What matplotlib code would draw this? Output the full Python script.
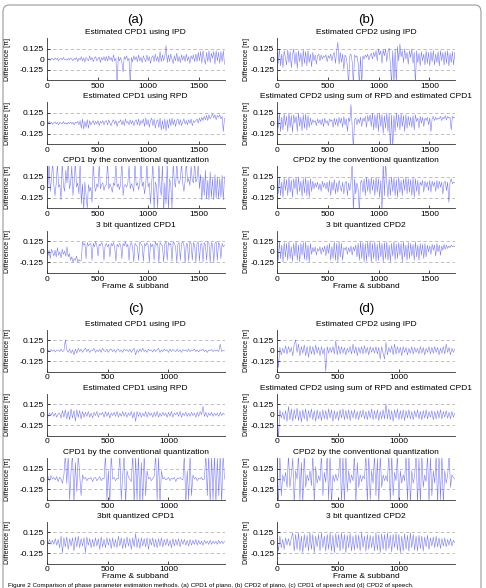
import numpy as np
import matplotlib
matplotlib.use("Agg")
import matplotlib.pyplot as plt
from matplotlib.patches import FancyBboxPatch

plt.rcParams['font.family'] = ['Liberation Sans', 'DejaVu Sans']

# ---------------- data (difference in units of pi) ----------------
frames_ab = 1750
frames_cd = 1460

a1 = [0.01,-0.01,0.005,-0.015,0.01,0.0,-0.01,0.015,-0.005,0.01,-0.02,0.005,0.01,-0.01,0.02,-0.005,0.0,-0.015,0.01,-0.01,0.015,0.0,-0.02,0.01,-0.005,
      0.02,-0.03,0.01,-0.01,0.03,-0.02,0.015,-0.035,0.02,0.0,-0.02,0.04,-0.01,0.02,-0.03,0.01,0.03,-0.02,0.0,0.025,-0.04,0.02,-0.01,0.03,-0.02,
      0.03,-0.02,0.04,-0.01,0.02,-0.03,0.05,-0.02,0.01,-0.3,0.03,-0.02,0.02,-0.04,-0.15,0.03,0.0,0.04,-0.02,0.01,-0.3,0.02,-0.03,0.04,-0.01,
      0.03,-0.03,0.05,-0.02,0.02,-0.04,0.04,0.0,-0.03,0.05,-0.02,0.03,-0.05,0.02,0.04,-0.03,0.06,-0.02,0.03,-0.04,0.09,-0.03,0.05,-0.02,0.04,
      0.16,-0.04,0.05,-0.03,0.06,0.0,-0.05,0.04,-0.02,0.07,-0.03,0.03,-0.04,0.05,-0.01,0.04,-0.03,0.06,-0.02,0.03,-0.05,0.04,0.0,0.05,-0.03,
      0.06,-0.03,0.08,-0.02,0.09,-0.05,0.1,0.0,-0.06,0.08,-0.03,0.1,-0.04,0.07,0.01,0.09,-0.06,0.1,-0.02,0.08,-0.05,0.09,-0.03,0.1,-0.06]
a2 = [0.01,-0.01,0.02,-0.005,0.01,-0.015,0.005,0.015,-0.01,0.01,-0.02,0.01,0.0,-0.01,0.02,-0.01,0.005,-0.015,0.01,-0.005,0.015,-0.01,0.01,-0.02,0.01,
      0.0,0.02,-0.02,0.03,-0.06,0.05,-0.07,0.02,-0.05,0.04,-0.06,0.03,-0.02,0.01,0.03,-0.02,0.02,-0.01,0.03,-0.03,0.02,0.0,0.03,-0.02,0.02,
      0.03,-0.02,0.04,0.0,-0.03,0.02,0.04,-0.01,0.03,-0.04,0.02,0.01,0.04,-0.02,0.03,-0.03,0.05,0.0,0.02,-0.02,0.04,-0.01,0.03,-0.03,0.02,
      0.04,-0.02,0.05,-0.03,0.03,0.0,0.05,-0.04,0.06,-0.02,0.04,-0.05,0.03,0.06,-0.03,0.05,-0.06,0.02,0.04,-0.05,0.06,-0.08,0.03,-0.07,0.05,
      -0.09,0.04,-0.06,0.05,-0.03,0.06,-0.02,0.04,-0.04,0.03,0.05,-0.02,0.04,-0.03,0.02,0.05,-0.01,0.03,-0.02,0.04,0.0,0.05,-0.03,0.03,0.01,
      0.03,0.05,0.0,0.06,0.02,0.07,0.03,0.08,0.04,0.09,0.03,0.1,0.05,0.08,0.11,0.06,0.1,0.04,0.09,0.07,0.1,0.05,0.08,-0.1,0.06]
a3 = [0.25,0.0,0.3,-0.05,0.1,0.3,0.02,-0.1,0.05,0.28,0.0,0.03,-0.15,0.3,0.02,-0.05,0.2,0.05,0.3,-0.02,0.04,0.25,-0.1,0.06,0.3,
      0.0,0.05,-0.08,0.3,-0.2,0.04,-0.28,0.06,-0.1,-0.25,0.03,-0.05,0.0,-0.18,0.3,0.02,-0.05,0.04,0.0,0.28,-0.02,0.03,0.05,-0.04,0.02,
      0.03,0.3,-0.02,0.04,0.0,-0.06,0.05,0.02,0.28,0.0,0.04,-0.03,0.05,0.3,-0.1,0.02,0.03,0.0,0.05,0.25,-0.02,0.04,0.01,-0.05,0.3,
      0.02,0.05,-0.03,0.04,0.3,0.01,0.06,-0.08,0.03,0.28,0.0,0.05,-0.2,0.04,0.3,-0.28,0.06,0.02,-0.25,0.3,0.0,-0.1,0.28,-0.3,0.05,
      -0.2,0.3,-0.28,0.1,0.02,-0.25,0.3,0.05,0.0,0.3,0.08,0.04,0.1,0.28,0.05,-0.05,0.08,0.3,0.06,0.1,0.02,0.25,0.08,0.05,0.3,
      0.06,0.1,0.28,-0.02,0.15,-0.15,0.12,-0.1,0.2,-0.14,0.08,-0.15,0.18,-0.12,0.1,-0.15,0.15,-0.13,0.12,-0.14,0.1,-0.12,0.14,-0.15,0.12]
a4 = [0.1,-0.05,0.02,-0.08,0.03,0.0,-0.05,0.02,-0.06,0.05,-0.04,0.0,-0.07,0.03,-0.03,0.01,-0.05,0.06,-0.06,-0.02,-0.1,-0.06,-0.12,-0.08,-0.1,
      -0.05,-0.12,-0.09,-0.11,-0.1,0.12,0.08,0.1,-0.08,0.11,0.07,0.09,0.1,-0.1,0.1,0.06,0.12,0.08,-0.05,0.09,0.07,0.11,0.08,-0.1,0.08,
      0.1,0.06,0.09,-0.06,0.1,0.07,0.11,0.05,-0.11,0.09,0.06,0.1,0.08,-0.08,0.1,0.07,0.12,0.06,0.09,-0.1,0.09,0.11,0.05,-0.12,0.1,
      0.08,0.06,-0.1,0.12,0.09,0.07,-0.11,0.1,0.07,0.11,0.08,-0.12,0.1,0.06,0.09,-0.1,0.12,0.08,0.1,-0.13,0.11,0.09,0.07,-0.12,0.1,
      0.12,-0.1,0.11,0.08,0.1,-0.11,0.12,0.1,0.06,-0.12,0.09,0.11,-0.1,0.1,0.12,0.08,-0.13,0.1,0.09,-0.11,0.12,0.1,-0.1,0.11,0.08,
      -0.12,0.1,0.12,-0.11,0.09,0.1,-0.12,0.11,0.08,-0.1,0.12,0.1,-0.13,0.11,0.09,-0.12,0.1,0.12,-0.1,0.11,0.09,-0.08,0.1,0.06,0.08]

b1 = [0.08,-0.05,0.12,-0.08,0.06,-0.1,0.1,0.02,-0.07,0.11,-0.04,0.09,-0.1,0.05,0.12,-0.06,0.08,-0.11,0.1,-0.03,0.07,-0.09,0.11,-0.05,0.09,
      -0.08,0.1,-0.04,0.06,-0.09,0.08,-0.02,0.05,-0.06,0.04,0.06,-0.02,0.05,0.0,0.04,0.02,0.05,-0.03,0.04,0.01,0.06,-0.02,0.05,0.08,-0.05,
      0.1,0.2,-0.06,0.08,-0.04,0.06,-0.12,0.05,0.02,-0.08,-0.3,0.04,0.06,-0.03,-0.3,0.05,0.02,0.04,-0.05,-0.3,0.03,-0.3,0.04,0.0,0.05,
      0.02,0.06,-0.01,0.04,0.07,0.0,0.08,0.03,0.1,-0.02,0.12,0.05,0.1,-0.05,0.11,0.04,0.12,-0.03,0.09,0.13,-0.06,-0.3,0.1,-0.3,0.12,
      -0.3,0.15,-0.02,0.18,0.03,0.1,-0.04,0.12,0.0,0.08,-0.06,0.1,0.02,0.12,-0.05,0.08,-0.3,0.1,-0.04,0.07,-0.08,0.09,-0.02,0.06,-0.07,
      0.1,-0.05,0.08,-0.08,0.09,-0.03,0.1,-0.07,0.06,-0.04,0.09,-0.08,0.1,-0.02,0.08,-0.07,0.09,-0.05,0.1,-0.08,0.07,-0.04,0.09,-0.07,0.08]
b2 = [0.1,-0.06,0.12,-0.1,0.07,-0.08,0.11,-0.03,0.08,-0.1,0.12,-0.05,0.09,-0.11,0.1,0.0,0.08,-0.1,0.12,-0.04,0.07,-0.09,0.1,-0.06,0.11,
      -0.08,0.09,-0.05,0.06,-0.02,0.04,0.01,0.03,-0.03,0.05,0.0,0.04,-0.02,0.05,-0.04,0.06,0.0,0.03,-0.03,0.05,0.02,0.04,-0.05,0.06,-0.02,
      0.05,-0.04,0.07,0.0,0.06,-0.05,0.08,-0.02,0.05,-0.1,0.06,0.02,0.22,-0.05,-0.3,0.04,0.06,-0.02,0.05,0.0,0.07,-0.04,0.06,0.02,0.08,
      -0.05,0.09,0.02,0.1,-0.04,0.12,-0.08,0.1,-0.06,0.11,-0.1,0.12,-0.04,0.1,-0.12,0.09,-0.06,0.12,-0.1,0.11,-0.3,0.1,-0.3,0.09,-0.1,
      0.12,-0.05,0.1,-0.08,0.11,-0.04,0.09,-0.1,0.1,-0.06,0.08,-0.03,0.07,-0.05,0.09,-0.08,0.1,0.02,0.06,-0.06,0.08,0.0,0.07,-0.04,0.06,
      0.03,0.07,-0.02,0.06,-0.1,0.05,0.08,0.03,0.07,0.04,0.06,0.05,0.08,0.03,0.07,0.05,0.09,0.04,0.08,0.06,0.07,-0.08,0.08,0.06,0.07]
b3 = [0.1,-0.08,0.12,-0.1,0.06,-0.12,0.11,-0.04,0.09,-0.1,0.12,-0.06,0.08,-0.12,0.1,-0.02,0.11,-0.09,0.12,-0.05,0.07,-0.11,0.1,-0.07,0.12,
      -0.1,0.08,-0.12,0.1,-0.05,0.07,-0.02,0.05,0.0,0.06,-0.03,0.04,-0.05,0.07,0.0,0.05,-0.02,0.06,-0.06,0.08,-0.1,0.06,-0.04,0.09,-0.08,
      0.05,-0.06,0.08,0.0,-0.05,0.06,-0.08,0.04,0.07,-0.1,0.05,-0.04,0.06,0.3,-0.3,0.1,-0.08,0.05,-0.02,-0.3,0.06,0.08,-0.06,0.1,-0.1,
      0.12,-0.05,0.1,-0.08,0.11,-0.04,0.09,-0.1,0.12,-0.06,0.1,-0.12,0.08,-0.3,0.3,-0.1,0.3,0.05,-0.12,0.1,-0.1,0.12,-0.05,0.11,-0.1,
      0.09,-0.12,0.12,-0.06,0.08,-0.1,0.1,-0.04,0.12,-0.08,0.1,-0.06,0.09,-0.1,0.11,-0.12,0.1,-0.05,0.08,-0.1,0.06,0.02,0.08,-0.06,0.07,
      0.0,0.06,-0.04,0.08,-0.06,0.07,0.01,0.06,-0.05,0.08,-0.02,0.07,0.0,0.06,-0.08,0.05,0.07,-0.04,0.06,-0.18,0.05,0.1,0.04,0.06,0.05]
b4 = [0.1,-0.1,0.12,-0.08,0.08,-0.12,0.11,-0.06,0.1,-0.1,0.12,-0.08,0.06,-0.11,0.1,-0.05,0.12,-0.1,0.08,-0.12,0.1,-0.04,0.11,-0.09,0.12,
      -0.1,0.08,-0.12,0.1,-0.03,0.05,0.0,0.06,-0.04,0.04,0.01,0.06,-0.03,0.05,0.0,0.07,-0.05,0.08,-0.02,0.1,-0.1,0.06,-0.08,0.12,-0.1,
      0.1,-0.12,0.12,-0.06,0.1,-0.1,0.05,0.02,0.06,-0.03,0.05,0.0,0.07,-0.04,0.06,0.01,0.08,-0.06,0.1,-0.1,0.12,-0.08,0.11,-0.12,0.1,
      -0.11,0.12,-0.06,0.13,-0.12,0.1,-0.08,0.12,-0.11,0.09,-0.1,0.12,-0.06,0.1,-0.12,0.11,-0.08,0.12,-0.1,0.08,-0.12,0.1,-0.05,0.12,-0.1,
      0.09,-0.08,0.11,-0.04,0.1,-0.12,0.12,-0.06,0.08,-0.1,0.11,-0.08,0.1,-0.05,0.09,-0.1,0.12,-0.06,0.08,-0.1,0.1,-0.04,0.09,-0.08,0.1,
      -0.06,0.08,0.0,0.07,-0.03,0.09,0.02,0.08,-0.05,0.1,0.0,0.08,-0.04,0.07,0.02,0.09,0.03,0.08,0.04,0.07,0.05,0.08,0.06,0.07,0.06]

c1 = [0.0,0.01,-0.01,0.015,-0.005,0.01,-0.015,0.005,0.01,-0.01,0.02,-0.01,0.0,0.13,0.01,-0.02,0.02,-0.03,0.01,-0.05,0.02,-0.03,0.03,-0.01,0.02,
      -0.02,0.01,0.03,-0.01,0.02,-0.02,0.01,0.0,0.03,-0.02,0.01,-0.01,0.02,-0.02,0.03,0.0,-0.01,0.02,-0.02,0.01,0.02,-0.01,0.015,-0.02,0.01,
      0.02,-0.01,0.01,-0.02,0.02,0.0,0.015,-0.01,0.02,-0.02,0.01,0.03,-0.05,0.01,-0.02,0.02,-0.01,0.03,-0.01,0.01,-0.02,0.02,0.0,0.01,-0.015,
      0.02,-0.01,0.01,0.03,-0.02,0.01,-0.01,0.02,0.0,0.01,-0.02,0.02,-0.01,0.015,0.0,-0.01,0.02,-0.01,0.01,-0.02,0.015,0.0,0.01,-0.01,0.02,
      -0.01,0.01,0.0,0.02,-0.01,0.01,-0.015,0.01,0.0,0.02,-0.01,0.01,-0.02,0.01,0.0,0.015,-0.01,0.01,-0.005,0.01,-0.01,0.08,-0.01,0.005,0.0]
c2 = [0.01,-0.02,0.02,-0.01,0.03,-0.02,0.02,-0.03,0.01,0.02,-0.04,0.05,-0.03,0.06,-0.05,0.04,-0.06,0.07,-0.04,0.05,-0.08,0.06,-0.03,0.05,-0.05,
      0.04,-0.03,0.03,-0.02,0.04,-0.03,0.02,-0.04,0.03,-0.01,0.04,-0.03,0.02,0.0,0.03,-0.03,0.04,-0.02,0.03,-0.04,0.02,-0.01,0.03,-0.02,0.04,
      -0.03,0.02,-0.02,0.04,-0.02,0.03,-0.03,0.02,-0.01,0.04,-0.04,0.03,-0.08,0.04,-0.02,0.03,-0.03,0.02,-0.02,0.04,-0.03,0.03,-0.01,0.02,-0.03,
      0.03,-0.02,0.04,-0.03,0.02,-0.02,0.03,-0.01,0.02,-0.03,0.03,-0.02,0.04,-0.03,0.02,0.0,0.03,-0.02,0.04,-0.03,0.02,-0.01,0.03,-0.02,0.02,
      -0.02,0.03,-0.01,0.02,-0.03,0.03,-0.02,0.04,0.0,0.1,-0.02,0.03,-0.03,0.02,-0.01,0.03,-0.02,0.02,-0.01,0.02,-0.02,0.03,-0.01,0.02,0.0]
c3 = [0.0,0.03,-0.02,0.04,0.0,0.02,-0.01,0.03,-0.03,0.02,0.0,-0.05,0.05,0.3,-0.05,0.28,-0.25,0.1,0.3,-0.3,0.2,-0.15,0.3,0.05,-0.2,
      0.05,0.0,0.02,-0.02,0.01,0.0,0.02,-0.03,0.01,0.02,-0.02,0.0,0.03,-0.02,0.01,0.0,0.3,-0.25,0.1,-0.3,0.3,0.0,0.02,-0.02,0.01,
      0.0,0.3,-0.25,0.05,0.3,-0.3,0.1,0.02,0.0,-0.03,0.3,-0.3,0.28,-0.25,0.3,-0.3,0.2,-0.28,0.3,-0.2,0.1,0.0,0.02,-0.02,0.01,
      0.03,0.3,-0.25,0.28,-0.3,0.1,0.0,0.02,-0.01,0.0,0.02,-0.02,0.01,0.0,0.02,-0.03,0.01,0.0,0.02,0.0,-0.01,0.3,-0.3,0.1,-0.25,
      0.3,-0.2,0.05,0.0,0.02,-0.02,0.01,0.0,0.02,-0.01,0.0,0.3,-0.2,0.3,-0.3,0.28,-0.25,0.3,-0.3,0.25,-0.2,0.3,-0.3,0.3,0.0]
c4 = [0.02,-0.01,0.04,-0.02,0.03,-0.02,0.05,-0.03,0.04,-0.06,0.08,-0.12,0.06,-0.05,0.07,-0.08,0.05,-0.04,0.06,-0.1,0.07,-0.05,0.08,-0.06,0.05,
      -0.04,0.06,-0.12,0.07,-0.03,0.05,-0.06,0.04,-0.05,0.06,-0.04,0.05,-0.08,0.07,-0.05,0.04,-0.06,0.06,-0.03,0.05,-0.07,0.06,-0.05,0.04,-0.06,
      0.08,-0.04,0.06,-0.07,0.05,-0.06,0.07,-0.04,0.05,-0.08,0.06,-0.05,0.11,-0.06,0.05,-0.07,0.06,-0.04,0.05,-0.05,0.06,-0.08,0.05,-0.03,0.06,
      -0.05,0.04,-0.06,0.05,-0.04,0.06,-0.05,0.04,-0.03,0.05,-0.04,0.03,-0.06,0.05,-0.04,0.04,-0.03,0.05,-0.05,0.04,-0.02,0.04,-0.03,0.03,-0.04,
      0.04,-0.03,0.03,-0.02,0.04,-0.03,0.03,-0.02,0.02,-0.03,0.03,-0.01,0.02,-0.02,0.03,-0.02,0.02,-0.01,0.02,-0.02,0.03,-0.01,0.02,-0.01,0.02]

d1 = [0.03,-0.2,0.04,-0.05,0.03,-0.03,0.06,-0.04,0.05,-0.02,0.04,-0.06,0.08,0.13,-0.02,0.08,-0.06,0.05,-0.03,0.07,-0.06,0.05,-0.08,0.06,-0.04,
      0.05,-0.05,0.07,-0.03,0.04,-0.06,0.05,-0.04,0.03,-0.25,0.05,-0.03,0.04,-0.02,0.05,-0.04,0.12,-0.05,0.06,-0.04,0.05,-0.03,0.04,-0.05,0.03,
      -0.02,0.05,-0.04,0.08,-0.03,0.05,-0.06,0.04,-0.03,0.05,-0.04,0.06,-0.03,0.04,-0.05,0.05,-0.02,0.04,-0.03,0.05,-0.04,0.04,-0.1,0.05,-0.03,
      -0.1,0.1,-0.05,0.04,-0.02,0.06,-0.05,0.08,-0.04,0.05,-0.03,0.04,-0.06,0.05,-0.02,0.04,-0.05,0.03,-0.03,0.05,-0.04,0.04,-0.02,0.03,-0.04,
      0.05,-0.03,0.04,-0.05,0.03,-0.02,0.05,-0.04,0.04,-0.03,0.05,-0.02,0.04,-0.05,0.03,-0.03,0.05,-0.04,0.08,-0.02,0.04,-0.05,0.03,-0.02,0.02]
d2 = [0.05,-0.3,0.06,-0.04,0.03,-0.06,0.05,-0.08,0.1,-0.06,0.07,-0.08,0.06,-0.05,0.08,-0.07,0.05,-0.09,0.06,-0.05,0.07,-0.08,0.05,-0.04,0.07,
      -0.06,0.05,-0.08,0.06,-0.05,0.04,-0.07,0.06,-0.05,0.05,-0.06,0.07,-0.04,0.06,-0.08,0.05,-0.05,0.04,-0.07,0.06,-0.04,0.07,-0.06,0.05,-0.05,
      0.06,-0.07,0.05,-0.04,0.06,-0.05,0.04,-0.06,0.05,-0.03,0.06,-0.05,0.04,-0.06,0.05,-0.04,0.07,-0.06,0.05,-0.05,0.06,-0.07,0.04,-0.05,0.06,
      -0.05,0.13,-0.05,0.07,-0.06,0.05,-0.08,0.06,-0.04,0.07,-0.06,0.05,-0.05,0.06,-0.07,0.05,-0.04,0.06,-0.05,0.04,-0.06,0.05,-0.03,0.06,-0.05,
      0.04,-0.06,0.05,-0.04,0.06,-0.05,0.04,-0.03,0.05,-0.06,0.04,-0.05,0.05,-0.04,0.06,-0.05,0.04,-0.03,0.05,-0.04,0.03,-0.05,0.04,-0.03,0.02]
d3 = [0.1,-0.3,0.3,-0.2,0.05,-0.03,0.08,-0.1,0.3,-0.1,0.05,0.25,-0.3,0.1,0.0,0.3,-0.25,0.2,-0.3,0.3,-0.1,0.05,-0.02,0.1,-0.08,
      0.3,-0.3,0.15,-0.05,0.04,-0.02,0.3,-0.2,0.08,-0.04,0.3,-0.25,0.3,-0.3,0.05,-0.03,0.06,-0.02,0.04,0.3,-0.3,0.28,-0.3,0.3,-0.15,
      0.1,-0.05,0.05,-0.02,0.3,-0.3,0.2,-0.1,0.05,-0.03,0.04,0.0,0.3,-0.3,0.3,-0.25,0.1,-0.05,0.3,-0.2,0.25,-0.3,0.3,-0.1,0.05,
      -0.02,0.04,-0.03,0.3,-0.3,0.3,-0.2,0.08,-0.02,0.3,-0.3,0.1,-0.05,0.05,-0.02,0.3,-0.28,0.3,-0.3,0.1,-0.05,0.04,0.3,-0.3,0.25,
      -0.3,0.3,-0.1,0.05,-0.03,0.3,-0.3,0.28,-0.2,0.1,-0.05,0.3,-0.3,0.3,-0.25,0.3,-0.3,0.1,-0.05,0.04,0.3,-0.1,0.05,0.02,0.0]
d4 = [0.05,-0.1,0.08,-0.06,0.04,-0.08,0.06,-0.03,0.05,-0.04,0.06,0.12,-0.1,0.1,-0.08,0.12,-0.1,0.08,-0.12,0.1,-0.06,0.09,-0.1,0.12,-0.08,
      0.1,-0.12,0.08,-0.05,0.1,-0.1,0.12,-0.06,0.08,-0.1,0.1,-0.08,0.12,-0.1,0.09,-0.12,0.11,-0.06,0.1,-0.1,0.12,-0.08,0.1,-0.12,0.09,
      -0.06,0.11,-0.1,0.08,-0.09,0.1,-0.07,0.09,-0.1,0.12,-0.06,0.08,-0.1,0.1,-0.08,0.09,-0.06,0.08,-0.1,0.12,-0.09,0.1,-0.12,0.11,-0.08,
      0.1,-0.1,0.12,-0.07,0.09,-0.11,0.1,-0.06,0.11,-0.09,0.1,-0.12,0.08,-0.1,0.11,-0.08,0.09,-0.1,0.12,-0.06,0.1,-0.09,0.08,-0.1,0.09,
      -0.07,0.08,-0.1,0.07,-0.05,0.09,-0.08,0.06,-0.04,0.07,-0.06,0.08,-0.05,0.06,-0.07,0.05,-0.04,0.06,-0.05,0.04,-0.03,0.05,-0.04,0.03,0.0]

titles_a = ["Estimated CPD1 using IPD", "Estimated CPD1 using RPD",
            "CPD1 by the conventional quantization", "3 bit quantized CPD1"]
titles_b = ["Estimated CPD2 using IPD", "Estimated CPD2 using sum of RPD and estimated CPD1",
            "CPD2 by the conventional quantization", "3 bit quantized CPD2"]
titles_c = ["Estimated CPD1 using IPD", "Estimated CPD1 using RPD",
            "CPD1 by the conventional quantization", "3bit quantized CPD1"]
titles_d = titles_b
panel_labels = ["(a)", "(b)", "(c)", "(d)"]
yticks = [-0.125, 0, 0.125]
ytick_labels = ["-0.125", "0", "0.125"]
xticks_ab = [0, 500, 1000, 1500]
xticks_cd = [0, 500, 1000]
ylabel = "Difference [\u03c0]"
xlabel = "Frame & subband"
caption = ("Figure 2 Comparison of phase parameter estimation methods. (a) CPD1 of piano, "
           "(b) CPD2 of piano, (c) CPD1 of speech and (d) CPD2 of speech.")

# ---------------- layout ----------------
W, H = 486, 588
fig = plt.figure(figsize=(W / 100, H / 100), dpi=100)

border = FancyBboxPatch((3 / W, -0.05), (481 - 3) / W, 1.05 - 5 / H,
                        boxstyle="round,pad=0,rounding_size=0.012",
                        transform=fig.transFigure, fill=False,
                        edgecolor="#9a9a9a", linewidth=0.8)
fig.patches.append(border)

line_color = (0.3, 0.3, 1.0)

def make_axes(left_px, top_px, width_px, height_px):
    return fig.add_axes([left_px / W, 1 - (top_px + height_px) / H, width_px / W, height_px / H])

panels = [
    (46.7, [38, 102, 166, 230.7], 42.3, frames_ab, xticks_ab, titles_a, [a1, a2, a3, a4], -0.2, 20),
    (277, [38, 102, 166, 230.7], 42.3, frames_ab, xticks_ab, titles_b, [b1, b2, b3, b4], -0.152, 20),
    (46.7, [330, 394, 458.3, 522], 41.5, frames_cd, xticks_cd, titles_c, [c1, c2, c3, c4], -0.2, 309),
    (277, [330, 394, 458.3, 522], 41.5, frames_cd, xticks_cd, titles_d, [d1, d2, d3, d4], -0.152, 309),
]

for p, (left, tops, hgt, nfr, xt, titles, series, ylab_x, lab_y) in enumerate(panels):
    width = 177.8
    fig.text((left + width / 2) / W, 1 - lab_y / H, panel_labels[p],
             ha="center", va="center", fontsize=9.5)
    for k in range(4):
        ax = make_axes(left, tops[k], width, hgt)
        vals = np.array(series[k])
        x = np.linspace(0, nfr, len(vals))
        ax.plot(x, vals, color=line_color, lw=0.4, alpha=0.75)
        ax.set_xlim(0, nfr)
        ax.set_ylim(-0.25, 0.25)
        for yv in (-0.125, 0.125):
            ax.axhline(yv, color="#b5b5b5", lw=0.6, ls=(0, (4, 3)), zorder=0)
        ax.set_yticks(yticks)
        ax.set_yticklabels(ytick_labels)
        ax.set_xticks(xt)
        ax.set_xticklabels([str(v) for v in xt])
        ax.tick_params(direction="in", length=2, width=0.5, labelsize=6, pad=2)
        for s in ("top", "right"):
            ax.spines[s].set_visible(False)
        for s in ("left", "bottom"):
            ax.spines[s].set_linewidth(0.6)
            ax.spines[s].set_color("#333333")
        ax.set_title(titles[k], fontsize=6, pad=3)
        ax.set_ylabel(ylabel, fontsize=5)
        ax.yaxis.set_label_coords(ylab_x, 0.5)
        if k == 3:
            ax.set_xlabel(xlabel, fontsize=6, labelpad=0)

fig.text(8 / W, 0.3 / H, caption, ha="left", va="bottom", fontsize=4.5)

fig.savefig("out.png", dpi=100)
